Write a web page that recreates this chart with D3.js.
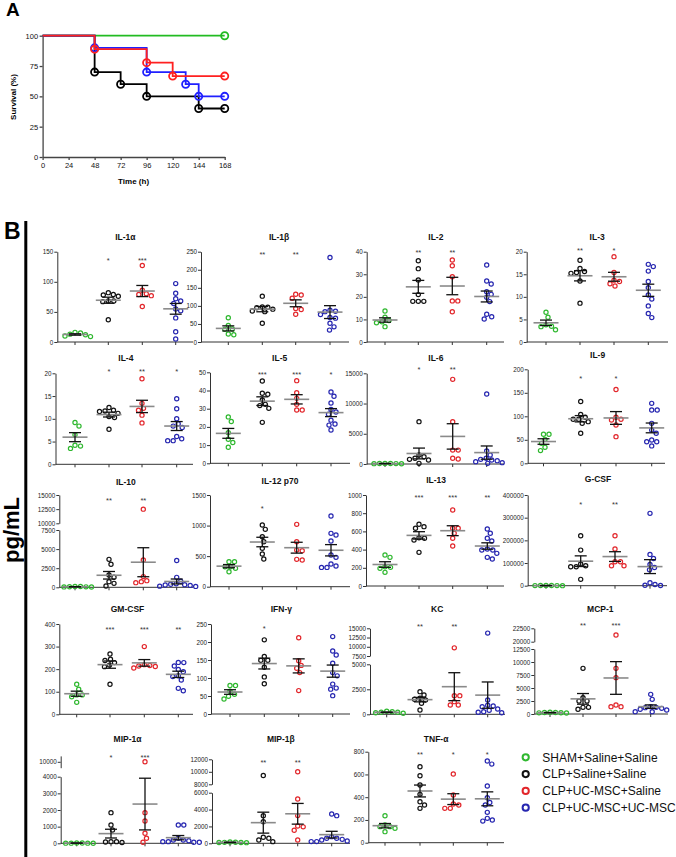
<!DOCTYPE html>
<html><head><meta charset="utf-8">
<script src="https://cdn.jsdelivr.net/npm/d3@7"></script>
<style>body{margin:0;background:#fff;} svg{display:block;font-family:Arial,"Liberation Sans",sans-serif;}</style>
</head><body><svg id="c" width="676" height="857"></svg>
<script>
// ---------------- DATA ----------------
const groups = ["SHAM+Saline+Saline","CLP+Saline+Saline","CLP+UC-MSC+Saline","CLP+UC-MSC+UC-MSC"];
const groupColors = ["#2fb82f","#111111","#e2262b","#2626b0"];
const survColors = ["#22bb22","#000000","#ff2020","#2020ff"];

// Panel A: Kaplan-Meier survival
const timeTicks = [0,24,48,72,96,120,144,168];
const survTicks = [0,25,50,75,100];
const shamT = [0,168],               shamS = [100,100],                 shamM = [168];
const clpT = [0,48,72,96,144,168],   clpS = [100,70,60,50,40,40],       clpM = [48,72,96,144,168];
const ucSalT = [0,48,96,120,168],    ucSalS = [100,88.9,77.8,66.7,66.7], ucSalM = [48,96,120,168];
const ucUcT = [0,48,96,132,144,168], ucUcS = [100,90,70,60,50,50],      ucUcM = [48,96,132,144,168];

// Panel B: cytokines (pg/mL), groups in order SHAM, CLP, CLP+UC, CLP+UC+UC
const cytokines = ["IL-1α","IL-1β","IL-2","IL-3","IL-4","IL-5","IL-6","IL-9","IL-10","IL-12 p70","IL-13","G-CSF","GM-CSF","IFN-γ","KC","MCP-1","MIP-1α","MIP-1β","TNF-α"];
const stars = [
 ["","*","***",""],["","**","**",""],["","**","**",""],["","**","*",""],
 ["","*","**","*"],["","***","***","*"],["","*","**",""],["","*","*",""],
 ["","**","**",""],["","*","",""],["","***","***","**"],["","*","**",""],
 ["","***","***","**"],["","*","",""],["","**","**",""],["","**","***",""],
 ["","*","***",""],["","**","**",""],["","**","*","*"]
];
const vIL1a = [[9,12,15,16,10,13],[78,76,79,82,68,67,68,37],[127,77,86,79,59,80],[97,81,72,68,64,55,52,40,17,5]];
const vIL1b = [[67,46,35,20,22,36],[127,97,96,95,91,86,84,52],[132,130,121,93,90,77],[234,85,84,88,76,68,66,52,42,33]];
const vIL2 = [[13.7,11,9.5,8.5,6.8,9],[36,32.5,27.5,21,18,18,18],[36.3,33.8,28.9,18.2,18.2,13.4],[34.1,27,25.7,22.3,21.1,19.8,17.9,12.3,11.2,10.2]];
const vIL3 = [[6.6,5.5,3.5,3.4,2.7,3.8],[18.1,16.3,15.6,15.4,15.2,13.5,8.6],[18.9,15.4,13.7,13.4,12.9,12.4],[17.2,16.7,15.7,13.4,12,10.4,9.5,8,6.3,5.4]];
const vIL4 = [[9.2,8.4,6.5,4.2,3.5,4],[12.5,11.9,11.7,11.6,11.2,10.5,10.3,7.7],[18.8,13.4,12.3,11.9,10.8,9.1],[14.4,12.2,10,8.9,8.4,8.1,6.1,5.6,5.2,5.2]];
const vIL5 = [[25.5,23,16.8,13.2,11.4,8.8],[45.2,38.5,37.9,34.8,32.4,31.7,30.2,22.5],[45.4,38.8,35.7,32.4,29.3,29.3],[39.2,36.8,33.1,29.6,28.2,27,23.7,21.6,21,18.3]];
const vIL6 = [[60,80,50,100,70,90],[7000,1500,1200,940,770,660,110],[14000,7000,2300,2300,940,830],[11580,2150,1500,940,770,660,550,390,220,110]];
const vIL9 = [[61.7,61.7,51,42.5,34,27],[131.5,104,98,93.6,93.6,88.6,85,64],[157,98,93.6,92,81.5,56.7],[127.6,113.4,113.4,85,71,64,49.6,46,46,37]];
const vIL10 = [[80,50,120,60,100,40],[3660,3010,1613,1310,740,520,175],[12500,3575,1400,870,740,610],[3500,1300,800,450,400,300,250,150,120,350]];
const vIL12 = [[409,409,327,327,300,245],[1009,938,818,736,627,535,453],[1020,736,600,589,447,436],[1156,873,845,747,518,480,338,316,316,371]];
const vIL13 = [[341,315,212,205,194,150],[678,652,634,531,524,505,370],[835,634,634,579,524,440],[626,579,524,495,407,396,396,315,297,359]];
const vGCSF = [[500,800,300,1000,600,400],[220600,157000,95600,83800,83800,88200,28000],[220600,161800,105900,88200,88200,105900],[319000,138000,120000,94000,80000,70000,13000,5000,2000,1000]];
const vGMCSF = [[133,111,86,86,78,53],[267,244,238,229,218,211,133],[300,220,216,214,212,205],[230,229,214,199,189,171,167,152,115,104]];
const vIFNg = [[79,79,63,55,49,41.5],[206,160,149,149,130,103,84],[212,148,135,127,115,65],[215,175,164,141,115,106,72,69,83,51]];
const vKC = [[200,150,300,250,100,200],[2267,1933,1600,1500,1433,1100,433],[9700,1867,1867,1267,933,933],[13700,1433,900,833,767,533,400,267,200,150]];
const vMCP1 = [[250,300,200,350,280,220],[8780,3140,2500,2500,1280,900,1280],[21250,8780,6990,1730,1410,1410],[3780,2820,1410,1218,1090,900,450,450,1280,770]];
const vMIP1a = [[10,20,5,15,10,8],[1840,1100,800,100,100,80,50],[10000,1840,1340,600,300,60],[1100,1100,300,200,160,100,100,60,60,200]];
const vMIP1b = [[100,120,80,150,90,110],[9400,3276,2566,592,197,395,710],[10000,5250,3300,2050,1950,1550,400],[3470,3276,790,590,470,280,200,200,590,395]];
const vTNFa = [[237,155,141,126,97,141],[668,589,507,425,331,302,360],[604,419,340,331,302,302],[718,691,498,396,354,331,267,214,190,199]];

// axis segments (domains) and tick labels; two segments = broken axis
const yDomains = [
 [[0,150]],[[0,250]],[[0,40]],[[0,20]],
 [[0,20]],[[0,50]],[[0,15000]],[[0,200]],
 [[0,7500],[10000,15000]],[[0,1500]],[[0,1000]],[[0,400000]],
 [[0,400]],[[0,250]],[[0,5000],[7500,15000]],[[0,12500],[20000,22500]],
 [[0,4000],[9500,10500]],[[0,6000],[8000,12000]],[[0,800]]
];
const yTicks = [
 [[0,50,100,150]],[[0,50,100,150,200,250]],[[0,10,20,30,40]],[[0,5,10,15,20]],
 [[0,5,10,15,20]],[[0,10,20,30,40,50]],[[0,5000,10000,15000]],[[0,50,100,150,200]],
 [[0,2500,5000,7500],[10000,12500,15000]],[[0,500,1000,1500]],[[0,200,400,600,800,1000]],[[0,100000,200000,300000,400000]],
 [[0,100,200,300,400]],[[0,50,100,150,200,250]],[[0,2500,5000],[7500,10000,12500,15000]],[[0,2500,5000,7500,10000,12500],[20000,22500]],
 [[0,1000,2000,3000,4000],[10000]],[[0,2000,4000,6000],[8000,10000,12000]],[[0,200,400,600,800]]
];
const allValues = [vIL1a,vIL1b,vIL2,vIL3,vIL4,vIL5,vIL6,vIL9,vIL10,vIL12,vIL13,vGCSF,vGMCSF,vIFNg,vKC,vMCP1,vMIP1a,vMIP1b,vTNFa];

// ---------------- LAYOUT ----------------
const layout = [
 {ax:57.3, cats:[75,108.3,142.3,175.7], xEnd:193, ty:237.5, sy:258, r:[[342,251.7]]},
 {ax:201, cats:[228.3,262.3,295.7,330], xEnd:349, ty:237.5, sy:252, r:[[342,251.7]]},
 {ax:366.7, cats:[385,418.3,452.3,486.7], xEnd:504, ty:237.5, sy:250, r:[[342,251.7]]},
 {ax:526.7, cats:[546,580,614,648.3], xEnd:668, ty:237.5, sy:248, r:[[342,251.7]]},
 {ax:55.5, cats:[75,109,142,176.7], xEnd:193, ty:358.5, sy:369.5, r:[[464.3,373.3]]},
 {ax:210, cats:[228.3,262.3,296.7,331], xEnd:350, ty:358.5, sy:372, r:[[463.3,372.3]]},
 {ax:366.7, cats:[385,419,452.7,486.7], xEnd:504, ty:358.5, sy:367, r:[[464,373.3]]},
 {ax:527.7, cats:[543.5,580.7,616,651.7], xEnd:665, ty:355.5, sy:376, r:[[463.3,369.3]]},
 {ax:59.3, cats:[75,109,143.3,176.7], xEnd:193, ty:482, sy:498, r:[[587.3,530],[523.3,495]]},
 {ax:210, cats:[229,262.3,296.7,331], xEnd:350, ty:481, sy:506, r:[[586.7,495]]},
 {ax:366, cats:[385,419,452.7,487.3], xEnd:504, ty:480.5, sy:495.5, r:[[586,495]]},
 {ax:527.7, cats:[546,580.7,615,650], xEnd:667, ty:479.5, sy:502, r:[[585.7,495]]},
 {ax:59.3, cats:[76.7,110,144.3,178.3], xEnd:193, ty:609, sy:627, r:[[714.3,624]]},
 {ax:211, cats:[230,264.3,298.7,332.7], xEnd:350, ty:609, sy:626, r:[[714,624]]},
 {ax:370, cats:[386.7,420,454.3,487.7], xEnd:505, ty:609.5, sy:624.5, r:[[714.3,664.3],[656,628.3]]},
 {ax:534.3, cats:[550,583,616,650.7], xEnd:668, ty:609.5, sy:623.5, r:[[714,649],[641.7,628.3]]},
 {ax:60.7, cats:[76.7,111,145,178.3], xEnd:194, ty:739, sy:755, r:[[843.3,776.7],[767.7,755.9]]},
 {ax:212, cats:[230,263.3,297.7,331.7], xEnd:350, ty:739, sy:760, r:[[843.3,792.7],[784.3,759.3]]},
 {ax:368.3, cats:[385,420,453.3,487.3], xEnd:504, ty:739, sy:752, r:[[842.7,751.7]]}
];

const svg = d3.select("#c");

// ---------------- PANEL A ----------------
{
  const g = svg.append("g");
  const x = d3.scaleLinear().domain([0,168]).range([42.6,224.7]);
  const y = d3.scaleLinear().domain([0,100]).range([157,35.7]);
  g.append("text").attr("x",6).attr("y",16).attr("font-size",19).attr("font-weight","bold").text("A");
  const ya = g.append("g").attr("transform","translate(42.6,0)").call(d3.axisLeft(y).tickValues(survTicks).tickSize(3).tickSizeOuter(0));
  const xa = g.append("g").attr("transform","translate(0,157)").call(d3.axisBottom(x).tickValues(timeTicks).tickSize(3).tickSizeOuter(0));
  [ya,xa].forEach(a=>{a.selectAll("path,line").attr("stroke","#444").attr("stroke-width",1.3);
    a.selectAll("text").attr("font-size",7.5).attr("fill","#111").attr("font-family","Arial,'Liberation Sans',sans-serif");});
  ya.selectAll("text").attr("x",-4.5);
  xa.selectAll("text").attr("y",5.5);
  g.append("text").attr("x",133.6).attr("y",184).attr("text-anchor","middle").attr("font-size",8).attr("font-weight","bold").text("Time (h)");
  g.append("text").attr("transform","translate(15.5,97) rotate(-90)").attr("text-anchor","middle").attr("font-size",8).attr("font-weight","bold").text("Survival (%)");

  const curves = [[shamT,shamS,shamM,0],[clpT,clpS,clpM,1],[ucUcT,ucUcS,ucUcM,3],[ucSalT,ucSalS,ucSalM,2]];
  const line = d3.line().x(d=>x(d[0])).y(d=>y(d[1])).curve(d3.curveStepAfter);
  curves.forEach(([T,S,M,ci])=>{
    const pts = T.map((t,i)=>[t,S[i]]);
    g.append("path").attr("d",line(pts)).attr("fill","none").attr("stroke",survColors[ci]).attr("stroke-width",1.8);
    M.forEach(m=>{
      let s = S[0]; T.forEach((t,i)=>{ if(t<=m) s=S[i]; });
      g.append("circle").attr("cx",x(m)).attr("cy",y(s)).attr("r",3.6).attr("fill","none")
        .attr("stroke",survColors[ci]).attr("stroke-width",1.8);
    });
  });
}

// ---------------- PANEL B ----------------
svg.append("text").attr("x",4).attr("y",238.5).attr("font-size",23).attr("font-weight","bold").text("B");
svg.append("line").attr("x1",25.8).attr("x2",25.8).attr("y1",221).attr("y2",857).attr("stroke","#000").attr("stroke-width",3);
svg.append("text").attr("transform","translate(19,530) rotate(-90)").attr("text-anchor","middle")
  .attr("font-size",22).attr("font-weight","bold").text("pg/mL");

function swarm(vals, yfn, cx, minD){
  const pts = vals.map(v=>({v, y:yfn(v)})).sort((a,b)=>a.y-b.y);
  const placed = [];
  for(const p of pts){
    let best = null;
    for(let k=0;k<80 && best===null;k++){
      const offs = k===0?[0]:[k*0.5,-k*0.5];
      for(const o of offs){
        if(placed.every(q=>Math.hypot(q.x-(cx+o), q.y-p.y)>=minD)){best=o;break;}
      }
    }
    p.x = cx+(best||0); placed.push(p);
  }
  return placed;
}

cytokines.forEach((name,pi)=>{
  const L = layout[pi], doms = yDomains[pi], tks = yTicks[pi], data = allValues[pi];
  const g = svg.append("g");
  const scales = doms.map((d,si)=>d3.scaleLinear().domain(d).range(L.r[si]));
  const yfn = v=>{
    for(let si=0; si<doms.length; si++){ if(v<=doms[si][1] || si===doms.length-1) return scales[si](v); }
  };
  // y axis segments
  scales.forEach((sc,si)=>{
    const a = g.append("g").attr("transform",`translate(${L.ax},0)`)
      .call(d3.axisLeft(sc).tickValues(tks[si]).tickSize(3).tickSizeOuter(0).tickFormat(d3.format("d")));
    a.selectAll("path,line").attr("stroke","#333").attr("stroke-width",1);
    a.selectAll("text").attr("font-size",6.3).attr("fill","#222").attr("x",-4).attr("font-family","Arial,'Liberation Sans',sans-serif");
  });
  // x axis
  g.append("line").attr("x1",L.ax).attr("x2",L.xEnd).attr("y1",L.r[0][0]).attr("y2",L.r[0][0]).attr("stroke","#333").attr("stroke-width",1);
  groups.forEach((gr,gi)=>{
    g.append("line").attr("x1",L.cats[gi]).attr("x2",L.cats[gi]).attr("y1",L.r[0][0]).attr("y2",L.r[0][0]+3).attr("stroke","#333").attr("stroke-width",1);
  });
  // title
  g.append("text").attr("x",(L.cats[0]+L.cats[3])/2).attr("y",L.ty).attr("dy","0.35em").attr("text-anchor","middle")
    .attr("font-size",8.5).attr("font-weight","bold").attr("fill","#111").text(name);
  // points
  data.forEach((vals,gi)=>{
    const cx = L.cats[gi];
    const pts = swarm(vals, yfn, cx, 5.2);
    g.selectAll(null).data(pts).enter().append("circle")
      .attr("cx",d=>d.x).attr("cy",d=>d.y).attr("r",2.1).attr("fill","none")
      .attr("stroke",groupColors[gi]).attr("stroke-width",1.2);
  });
  // mean & SEM
  data.forEach((vals,gi)=>{
    const cx = L.cats[gi];
    const m = d3.mean(vals), se = d3.deviation(vals)/Math.sqrt(vals.length);
    const ym = yfn(m), yh = yfn(m+se), yl = yfn(Math.max(0,m-se));
    g.append("line").attr("x1",cx-12.5).attr("x2",cx+12.5).attr("y1",ym).attr("y2",ym).attr("stroke","#8a8a8a").attr("stroke-width",1.6);
    g.append("line").attr("x1",cx).attr("x2",cx).attr("y1",yh).attr("y2",yl).attr("stroke","#111").attr("stroke-width",1.3);
    [yh,yl].forEach(yy=>g.append("line").attr("x1",cx-6).attr("x2",cx+6).attr("y1",yy).attr("y2",yy).attr("stroke","#111").attr("stroke-width",1.3));
    if(stars[pi][gi]) g.append("text").attr("x",cx).attr("y",L.sy+4.5).attr("text-anchor","middle")
      .attr("font-size",7.5).attr("fill","#333").text(stars[pi][gi]);
  });
});

// legend
groups.forEach((gr,i)=>{
  const yy = 757.3 + i*16.8;
  svg.append("circle").attr("cx",525.7).attr("cy",yy).attr("r",3.1).attr("fill","none").attr("stroke",groupColors[i]).attr("stroke-width",2);
  svg.append("text").attr("x",542.3).attr("y",yy).attr("dy","0.36em").attr("font-size",12).attr("fill","#111").text(gr);
});
</script>
</body></html>
